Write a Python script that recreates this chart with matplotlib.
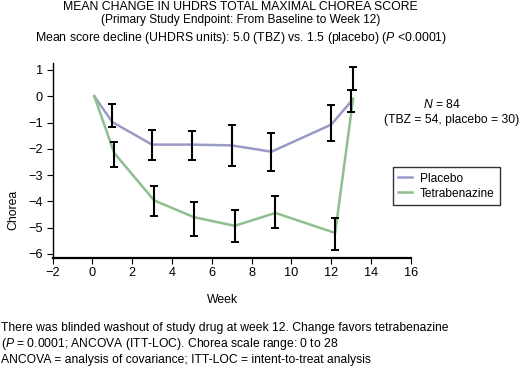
import numpy as np
import matplotlib
matplotlib.use("Agg")
import matplotlib.pyplot as plt

plt.rcParams["font.family"] = "Liberation Sans"
plt.rcParams["mathtext.fontset"] = "custom"
plt.rcParams["mathtext.rm"] = "Liberation Sans"
plt.rcParams["mathtext.it"] = "Liberation Sans:italic"

# Donnees
weeks_pbo = [0.1, 1, 3, 5, 7, 9, 12, 13]
pbo_mean = [0, -0.98, -1.84, -1.84, -1.87, -2.11, -1.08, -0.2]
pbo_hi = [-0.29, -1.27, -1.31, -1.10, -1.38, -0.35, 0.25]
pbo_lo = [-1.17, -2.44, -2.44, -2.67, -2.86, -1.69, -0.60]

weeks_tbz = [0.1, 1.1, 3.1, 5.1, 7.15, 9.2, 12.2, 13.1]
tbz_mean = [0, -2.16, -3.96, -4.60, -4.93, -4.44, -5.20, -0.1]
tbz_hi = [-1.74, -3.43, -4.04, -4.32, -3.78, -4.63, 1.10]
tbz_lo = [-2.71, -4.57, -5.31, -5.56, -5.03, -5.84, 0.25]

col_pbo = "#9a9ac8"
col_tbz = "#8fbf8f"

fig = plt.figure(figsize=(5.2, 3.67), dpi=100)
ax = fig.add_axes([0.101, 0.298, 0.689, 0.530])

ax.plot(weeks_pbo, pbo_mean, color=col_pbo, lw=1.8, label="Placebo")
ax.plot(weeks_tbz, tbz_mean, color=col_tbz, lw=1.8, label="Tetrabenazine")

# barres d'erreur (sans le point de depart)
for w, lo, hi in zip(weeks_pbo[1:], pbo_lo, pbo_hi):
    ax.errorbar([w], [(lo + hi) / 2], yerr=[[(hi - lo) / 2], [(hi - lo) / 2]],
                fmt="none", ecolor="black", elinewidth=1.5, capsize=2.8, capthick=1.4)
for w, lo, hi in zip(weeks_tbz[1:], tbz_lo, tbz_hi):
    ax.errorbar([w], [(lo + hi) / 2], yerr=[[(hi - lo) / 2], [(hi - lo) / 2]],
                fmt="none", ecolor="black", elinewidth=1.5, capsize=2.8, capthick=1.4)

ax.set_xlim(-2, 16)
ax.set_ylim(-6.14, 1.26)
ax.set_xticks(np.arange(-2, 17, 2))
ax.set_yticks(np.arange(-6, 2, 1))
ax.spines["top"].set_visible(False)
ax.spines["right"].set_visible(False)
ax.spines["left"].set_linewidth(1.0)
ax.spines["bottom"].set_linewidth(1.6)
ax.tick_params(direction="out", length=4, width=0.8, labelsize=9.2, pad=3)

fig.text(0.025, 0.427, "Chorea", rotation=90, ha="center", va="center", fontsize=8.8)
fig.text(0.427, 1 - 300 / 367, "Week", ha="center", va="center", fontsize=8.8)

fig.text(0.462, 1 - 6.5 / 367, "MEAN CHANGE IN UHDRS TOTAL MAXIMAL CHOREA SCORE",
         ha="center", va="center", fontsize=8.8)
fig.text(0.462, 1 - 20 / 367, "(Primary Study Endpoint: From Baseline to Week 12)",
         ha="center", va="center", fontsize=8.6)
fig.text(0.463, 1 - 37.5 / 367,
         "Mean score decline (UHDRS units): 5.0 (TBZ) vs. 1.5 (placebo) ($P$ <0.0001)",
         ha="center", va="center", fontsize=8.8)

fig.text(441.7 / 520, 1 - 104.3 / 367, "$N$ = 84", ha="center", va="center", fontsize=8.7)
fig.text(451.7 / 520, 1 - 120 / 367, "(TBZ = 54, placebo = 30)", ha="center", va="center",
         fontsize=8.7)

leg = fig.legend(loc="upper left", bbox_to_anchor=(392.7 / 520, 1 - 167.3 / 367),
                 fontsize=8.6, frameon=True, fancybox=False, edgecolor="black",
                 handlelength=1.2, handletextpad=0.6, borderpad=0.45, labelspacing=0.25,
                 borderaxespad=0)
leg.get_frame().set_linewidth(1.0)

fig.text(0.002, 1 - 327.7 / 367,
         "There was blinded washout of study drug at week 12. Change favors tetrabenazine",
         ha="left", va="center", fontsize=8.7)
fig.text(0.002, 1 - 343.5 / 367,
         "($P$ = 0.0001; ANCOVA (ITT-LOC). Chorea scale range: 0 to 28",
         ha="left", va="center", fontsize=8.7)
fig.text(0.002, 1 - 360 / 367,
         "ANCOVA = analysis of covariance; ITT-LOC = intent-to-treat analysis",
         ha="left", va="center", fontsize=8.7)

plt.savefig("out.png", dpi=100)
